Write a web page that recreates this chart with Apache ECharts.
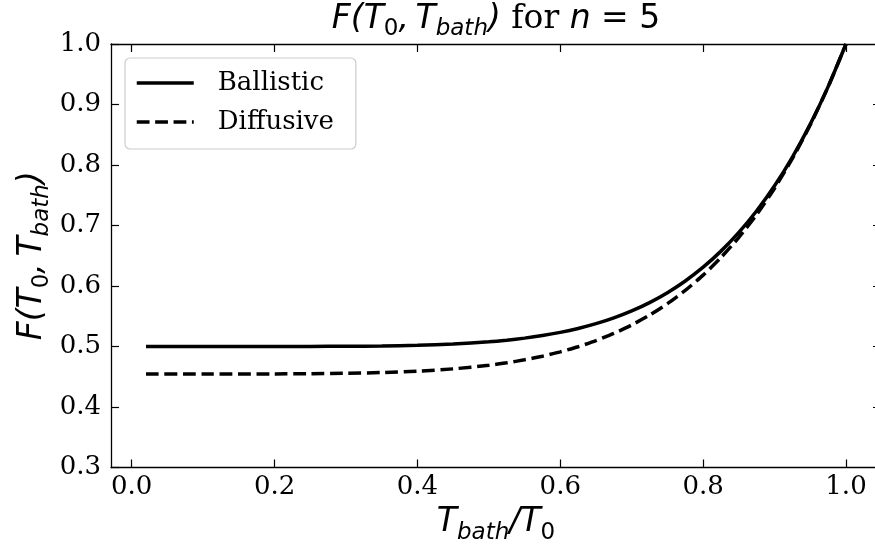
<!DOCTYPE html>
<html>
<head>
<meta charset="utf-8">
<script src="https://cdn.jsdelivr.net/npm/echarts/dist/echarts.min.js"></script>
<style>
  html, body { margin: 0; padding: 0; background: #fff; }
  #chart { width: 875px; height: 548px; }
</style>
</head>
<body>
<div id="chart"></div>
<script>
// Reduced bath temperature T_bath / T_0
const tRatio = [0.02, 0.1, 0.2, 0.25, 0.3, 0.35, 0.4, 0.45, 0.5, 0.525, 0.55, 0.575, 0.6, 0.625, 0.65, 0.675, 0.7, 0.725, 0.75, 0.775, 0.8, 0.825, 0.85, 0.875, 0.9, 0.925, 0.95, 0.975, 1.0];
// F(T_0, T_bath), ballistic regime
const ballistic = [0.5, 0.5, 0.50003, 0.50012, 0.50036, 0.50092, 0.50205, 0.50415, 0.50781, 0.51047, 0.51384, 0.51807, 0.52333, 0.52980, 0.53771, 0.54729, 0.55882, 0.57261, 0.58899, 0.60834, 0.63107, 0.65765, 0.68857, 0.72440, 0.76572, 0.81320, 0.86755, 0.92953, 1.0];
// F(T_0, T_bath), diffusive regime
const diffusive = [0.45455, 0.45455, 0.45469, 0.45499, 0.45566, 0.45694, 0.45923, 0.46302, 0.46898, 0.47303, 0.47797, 0.48393, 0.49108, 0.49961, 0.50971, 0.52161, 0.53557, 0.55186, 0.57080, 0.59272, 0.61801, 0.64707, 0.68036, 0.71837, 0.76165, 0.81078, 0.86642, 0.92924, 1.0];
// Tick labels
const xTicks = [0.0, 0.2, 0.4, 0.6, 0.8, 1.0];
const yTicks = [0.3, 0.4, 0.5, 0.6, 0.7, 0.8, 0.9, 1.0];

const SANS = 'DejaVu Sans';
const SERIF = 'DejaVu Serif';
const base = { fontWeight: 'normal', color: '#000' };
const mathRich = {
  mi: Object.assign({ fontFamily: SANS, fontStyle: 'italic', fontSize: 33, lineHeight: 44 }, base),
  mu: Object.assign({ fontFamily: SANS, fontSize: 33, lineHeight: 44 }, base),
  s:  Object.assign({ fontFamily: SANS, fontStyle: 'italic', fontSize: 23, lineHeight: 20, verticalAlign: 'bottom' }, base),
  su: Object.assign({ fontFamily: SANS, fontSize: 23, lineHeight: 20, verticalAlign: 'bottom' }, base),
  r:  Object.assign({ fontFamily: SERIF, fontSize: 33, lineHeight: 44 }, base)
};
const fLabel = '{mi|F(T}{su|0}{mi|,\u2009T}{s|bath}{mi|)}';

const toPairs = (xs, ys) => xs.map((x, i) => [x, ys[i]]);

const axisLine = { show: true, onZero: false, lineStyle: { color: '#000', width: 1.3 } };
const tick = { show: true, inside: true, length: 8, lineStyle: { color: '#000', width: 1.2 } };
const tickFont = { fontFamily: SERIF, fontSize: 26, color: '#000' };
const LINE_W = 3.5;
const DASH = [12.8, 5.6];

const chart = echarts.init(document.getElementById('chart'), null, { renderer: 'canvas' });
chart.setOption({
  animation: false,
  backgroundColor: '#fff',
  title: {
    text: fLabel + '{r| for }{mi|n}{mu| = 5}',
    left: 496, top: -3, textAlign: 'center', padding: 0,
    textStyle: { fontWeight: 'normal', rich: mathRich }
  },
  grid: { left: 111, top: 44, right: -6, bottom: 80.5, containLabel: false, outerBoundsMode: 'none' },
  legend: {
    orient: 'vertical',
    left: 125, top: 58,
    padding: [10, 22, 12, 10],
    itemGap: 9,
    itemWidth: 57, itemHeight: 14,
    backgroundColor: 'rgba(255,255,255,0.8)',
    borderColor: '#cccccc', borderWidth: 1.2, borderRadius: 5,
    textStyle: { fontFamily: SERIF, fontSize: 26, color: '#000', lineHeight: 30, padding: [0, 0, 0, 19] },
    data: [
      { name: 'Ballistic', icon: 'line', itemStyle: { color: '#000', borderColor: '#000', borderWidth: LINE_W, borderType: 'solid' } },
      { name: 'Diffusive', icon: 'line', itemStyle: { color: '#000', borderColor: '#000', borderWidth: LINE_W, borderType: DASH } }
    ]
  },
  xAxis: [{
    type: 'value', min: -0.029, max: 1.049,
    position: 'bottom',
    axisLine, axisTick: Object.assign({ customValues: xTicks }, tick),
    splitLine: { show: false },
    axisLabel: Object.assign({ customValues: xTicks, margin: 7, formatter: v => v.toFixed(1) }, tickFont),
    name: '{mi|T}{s|bath}{mi|/T}{su|0}',
    nameLocation: 'middle', nameGap: 33,
    nameTextStyle: { rich: mathRich }
  }, {
    type: 'value', min: -0.029, max: 1.049,
    position: 'top',
    axisLine, axisTick: Object.assign({ customValues: xTicks }, tick),
    splitLine: { show: false }, axisLabel: { show: false }
  }],
  yAxis: [{
    type: 'value', min: 0.3, max: 1.0,
    position: 'left',
    axisLine, axisTick: Object.assign({ customValues: yTicks }, tick),
    splitLine: { show: false },
    axisLabel: Object.assign({ customValues: yTicks, margin: 10, formatter: v => v.toFixed(1) }, tickFont),
    name: fLabel,
    nameLocation: 'middle', nameGap: 57, nameMoveOverlap: false,
    nameTextStyle: { rich: mathRich }
  }, {
    type: 'value', min: 0.3, max: 1.0,
    position: 'right',
    axisLine, axisTick: Object.assign({ customValues: yTicks }, tick),
    splitLine: { show: false }, axisLabel: { show: false }
  }],
  series: [{
    name: 'Ballistic', type: 'line',
    data: toPairs(tRatio, ballistic),
    showSymbol: false, symbol: 'none', smooth: 0.2,
    lineStyle: { color: '#000', width: LINE_W, type: 'solid' },
    itemStyle: { color: '#000' }
  }, {
    name: 'Diffusive', type: 'line',
    data: toPairs(tRatio, diffusive),
    showSymbol: false, symbol: 'none', smooth: 0.2,
    lineStyle: { color: '#000', width: LINE_W, type: DASH },
    itemStyle: { color: '#000' }
  }]
});
</script>
</body>
</html>
